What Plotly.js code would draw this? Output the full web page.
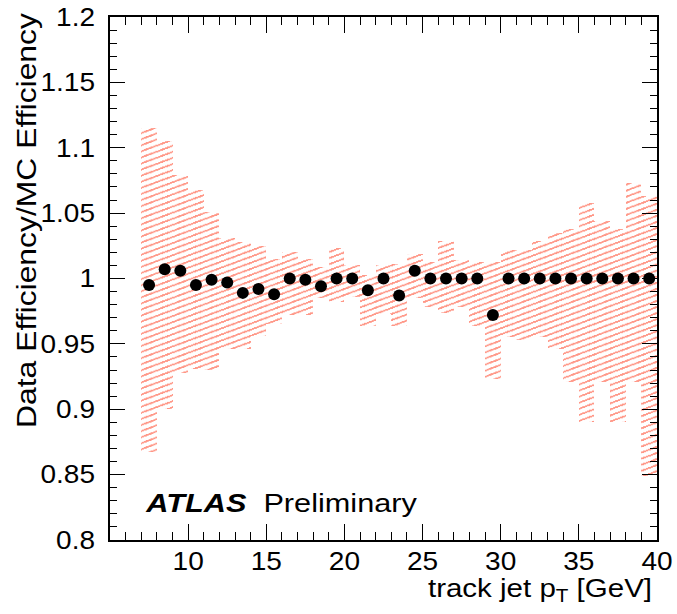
<!DOCTYPE html>
<html><head><meta charset="utf-8">
<script src="https://cdn.plot.ly/plotly-3.0.1.min.js"></script>
<style>html,body{margin:0;padding:0;background:#fff}</style>
</head><body><div id="chart" style="width:677px;height:614px"></div>
<script>
const binCenters = [7.5,8.5,9.5,10.5,11.5,12.5,13.5,14.5,15.5,16.5,17.5,18.5,19.5,20.5,21.5,22.5,23.5,24.5,25.5,26.5,27.5,28.5,29.5,30.5,31.5,32.5,33.5,34.5,35.5,36.5,37.5,38.5,39.5];
const ratio = [0.995,1.007,1.006,0.995,0.999,0.997,0.989,0.992,0.988,1.0,0.999,0.994,1.0,1.0,0.991,1.0,0.987,1.006,1.0,1.0,1.0,1.0,0.972,1.0,1.0,1.0,1.0,1.0,1.0,1.0,1.0,1.0,1.0];
const bandUpper = [1.115,1.105,1.079,1.068,1.051,1.031,1.028,1.025,1.015,1.020,1.015,1.009,1.023,1.010,1.003,1.010,1.011,1.019,1.013,1.029,1.014,1.013,1.013,1.022,1.022,1.029,1.035,1.038,1.058,1.044,1.038,1.073,1.063];
const bandLower = [0.867,0.900,0.928,0.931,0.930,0.946,0.946,0.956,0.965,0.972,0.972,0.985,0.982,0.986,0.964,0.973,0.964,0.985,0.978,0.974,0.978,0.964,0.923,0.955,0.953,0.955,0.946,0.921,0.890,0.921,0.890,0.921,0.849];
const xTickVals = [10,15,20,25,30,35,40];
const xTickText = ['10','15','20','25','30','35','40'];
const yTickVals = [0.8,0.85,0.9,0.95,1.0,1.05,1.1,1.15,1.2];
const yTickText = ['0.8','0.85','0.9','0.95','1','1.05','1.1','1.15','1.2'];

const hatchColor = '#ff2f10';
const font = 'Liberation Sans, Arial, Helvetica, sans-serif';

const band = {
  type: 'bar',
  x: binCenters,
  base: bandLower,
  y: bandUpper.map((u, i) => u - bandLower[i]),
  width: 1,
  marker: {
    color: 'rgba(0,0,0,0)',
    line: {width: 0},
    pattern: {shape: '/', fgcolor: hatchColor, bgcolor: 'rgba(0,0,0,0)', size: 4.3, solidity: 0.3, fillmode: 'overlay'}
  },
  hoverinfo: 'skip',
  showlegend: false
};
const points = {
  type: 'scatter', mode: 'markers',
  x: binCenters, y: ratio,
  marker: {color: 'black', size: 12},
  showlegend: false
};

const axisCommon = {
  showgrid: false, zeroline: false,
  showline: true, linecolor: 'black', linewidth: 2, mirror: 'ticks',
  ticks: 'inside', tickcolor: 'black', tickwidth: 1,
  tickfont: {family: font, size: 25, color: 'black'}
};

const layout = {
  width: 677, height: 614,
  margin: {l: 110, r: 20, t: 17, b: 74},
  paper_bgcolor: 'white', plot_bgcolor: 'white',
  font: {family: font, color: 'black'},
  bargap: 0,
  xaxis: Object.assign({}, axisCommon, {
    range: [5, 40], tickmode: 'array', tickvals: xTickVals, ticktext: xTickText,
    ticklen: 16, ticklabelstandoff: -2,
    minor: {dtick: 1, tick0: 5, ticks: 'inside', ticklen: 8, tickcolor: 'black', tickwidth: 1, showgrid: false}
  }),
  yaxis: Object.assign({}, axisCommon, {
    range: [0.8, 1.2], tickmode: 'array', tickvals: yTickVals, ticktext: yTickText,
    ticklen: 15, ticklabelstandoff: 8,
    minor: {dtick: 0.01, tick0: 0.8, ticks: 'inside', ticklen: 7, tickcolor: 'black', tickwidth: 1, showgrid: false}
  }),
  annotations: [
    {text: 'Data Efficiency/MC Efficiency', xref: 'paper', yref: 'paper', x: -0.151, y: 0.612,
     xanchor: 'center', yanchor: 'middle', textangle: -90, showarrow: false,
     font: {family: font, size: 27, color: 'black'}},
    {text: 'track jet p<sub>T</sub> [GeV]', xref: 'paper', yref: 'paper', x: 0.787, y: -0.062,
     xanchor: 'center', yanchor: 'top', showarrow: false,
     font: {family: font, size: 25, color: 'black'}},
    {text: '<b><i>ATLAS</i></b>  Preliminary', xref: 'paper', yref: 'paper', x: 0.313, y: 0.071,
     xanchor: 'center', yanchor: 'middle', showarrow: false,
     font: {family: font, size: 26, color: 'black'}}
  ]
};

function stretch(sel, k) {
  document.querySelectorAll(sel).forEach(t => {
    const L = t.getComputedTextLength();
    if (L > 0) {
      t.setAttribute('textLength', (L * k).toFixed(1));
      t.setAttribute('lengthAdjust', 'spacingAndGlyphs');
    }
  });
}

Plotly.newPlot('chart', [band, points], layout, {staticPlot: true}).then(() => {
  document.querySelectorAll('pattern').forEach(p => {
    p.setAttribute('patternTransform', 'scale(2.7,1)');
    p.querySelectorAll('path').forEach(q => q.setAttribute('shape-rendering', 'crispEdges'));
  });
  stretch('.xtick text', 1.12);
  stretch('.ytick text', 1.12);
  stretch('text.annotation-text', 1.18);
});
</script></body></html>
